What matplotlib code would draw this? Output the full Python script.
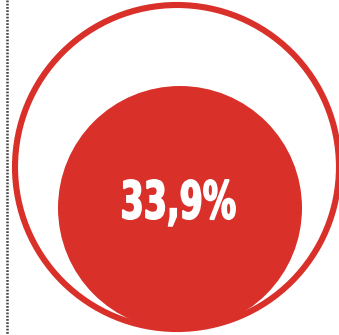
import matplotlib
matplotlib.use("Agg")
import matplotlib.pyplot as plt
from matplotlib.patches import Circle
from matplotlib.patheffects import AbstractPathEffect
from matplotlib.transforms import Affine2D

value = 33.9
label = f"{value:.1f}".replace(".", ",") + "%"

red = "#d9302a"


class Squeeze(AbstractPathEffect):
    """Compress text horizontally about its own centre and embolden it."""
    def __init__(self, sx, stroke=0.0):
        super().__init__()
        self.sx = sx
        self.stroke = stroke

    def draw_path(self, renderer, gc, tpath, affine, rgbFace=None):
        ext = tpath.get_extents(affine)
        cx = (ext.x0 + ext.x1) / 2
        new = affine + Affine2D().translate(-cx, 0).scale(self.sx, 1).translate(cx, 0)
        gc0 = renderer.new_gc()
        gc0.copy_properties(gc)
        if self.stroke > 0:
            gc0.set_linewidth(self.stroke)
            gc0.set_foreground(rgbFace)
            gc0.set_joinstyle("miter")
        renderer.draw_path(gc0, tpath, new, rgbFace)
        gc0.restore()


fig = plt.figure(figsize=(3.39, 3.35), dpi=100)
ax = fig.add_axes([0, 0, 1, 1])
ax.set_xlim(0, 339)
ax.set_ylim(335, 0)
ax.set_aspect("equal")
ax.axis("off")

# dotted left rule
ax.plot([6.5, 6.5], [0, 335], color="#444444", lw=1.8, ls=(0, (0.7, 0.6)),
        solid_capstyle="butt")

# outer ring
ax.add_patch(Circle((177, 167), 162, fill=False, edgecolor=red, lw=4.4))
# inner disc
ax.add_patch(Circle((180, 208), 122, facecolor=red, edgecolor="none"))

ax.text(178, 204.5, label, color="white", fontsize=37.5, fontweight="bold",
        family="DejaVu Sans", ha="center", va="center",
        path_effects=[Squeeze(0.64, stroke=1.2)])

fig.savefig("out.png", dpi=100)
